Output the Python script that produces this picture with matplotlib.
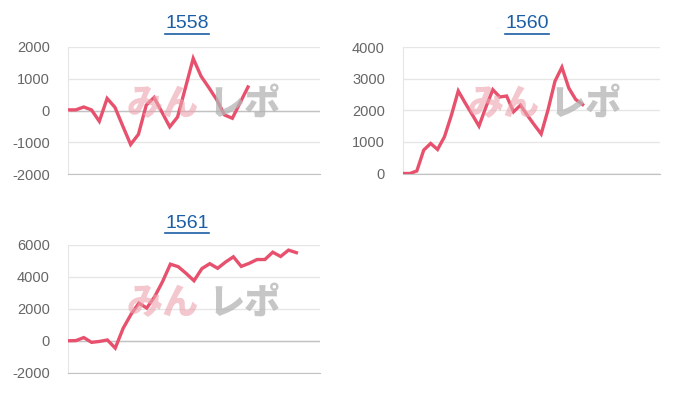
import matplotlib
matplotlib.use("Agg")
import matplotlib.pyplot as plt
from matplotlib.lines import Line2D
import numpy as np

plt.rcParams['font.family'] = ['Liberation Sans', 'DejaVu Sans']
plt.rcParams['axes.unicode_minus'] = False

# machine numbers (chart titles)
titles = ["1558", "1560", "1561"]

# cumulative values
vals_1558 = [20, 20, 110, 20, -340, 380, 100, -490, -1070, -750, 170, 410,
             -50, -515, -205, 710, 1640, 1080, 720, 340, -140, -245, 250, 740]
vals_1560 = [0, 0, 80, 740, 950, 760, 1160, 1840, 2610, 2230, 1870, 1500,
             2100, 2650, 2420, 2450, 1950, 2160, 1840, 1540, 1250, 2020,
             2920, 3360, 2700, 2340, 2180]
vals_1561 = [0, 10, 200, -100, -40, 50, -460, 780, 1650, 2360, 2050, 2760,
             3700, 4800, 4640, 4220, 3760, 4520, 4830, 4540, 4930, 5260,
             4660, 4850, 5090, 5090, 5550, 5280, 5680, 5520]
series = [vals_1558, vals_1560, vals_1561]

# y axis ticks for each panel
yticks = [[-2000, -1000, 0, 1000, 2000],
          [0, 1000, 2000, 3000, 4000],
          [-2000, 0, 2000, 4000, 6000]]
# number of x slots on the category axis
xspan = [32.2, 37.2, 32.0]

line_color = '#e8516d'
title_color = '#1b5ea6'
W, H = 700, 400

# axes boxes in pixels: left, top, right, bottom
boxes = [(68, 47, 320, 174), (403, 47, 660, 173.5), (68, 245, 320, 372.7)]
title_pos = [(187, 23.5), (527, 23.5), (187, 223)]
mark_pos = [(203, 104), (544, 104), (203, 303)]

fig = plt.figure(figsize=(7, 4), dpi=100)
jp = ['Noto Sans CJK JP', 'DejaVu Sans']

for vals, ticks, span, box, tpos, mpos, title in zip(
        series, yticks, xspan, boxes, title_pos, mark_pos, titles):
    l, t, r, b = box
    ax = fig.add_axes([l / W, 1 - b / H, (r - l) / W, (b - t) / H])
    x = np.arange(len(vals))
    ax.set_xlim(0, span)
    ax.set_ylim(ticks[0], ticks[-1])
    ax.set_yticks(ticks)
    ax.set_xticks([])
    ax.grid(axis='y', color='#e6e6e6', linewidth=1)
    ax.axhline(0, color='#c2c2c2', linewidth=1, zorder=1)
    for s in ['top', 'right']:
        ax.spines[s].set_visible(False)
    ax.spines['left'].set_color('#e6e6e6')
    ax.spines['bottom'].set_color('#c2c2c2')
    ax.tick_params(axis='y', length=0, pad=13, labelsize=10.5, labelcolor='#666666')
    ax.set_axisbelow(True)

    # watermark
    fig.text((mpos[0] - 40) / W, 1 - mpos[1] / H, "みん", ha='center', va='center',
             fontsize=26, fontweight='black', color='#eba3ad', alpha=0.6,
             family=jp, zorder=0)
    fig.text((mpos[0] + 42) / W, 1 - mpos[1] / H, "レポ", ha='center', va='center',
             fontsize=26, fontweight='black', color='#b4b4b4', alpha=0.75,
             family=jp, zorder=0)

    ax.plot(x, vals, color=line_color, linewidth=2.4, solid_joinstyle='miter',
            zorder=3)
    ax.patch.set_alpha(0)

    fig.text(tpos[0] / W, 1 - tpos[1] / H, title, ha='center', va='center',
             fontsize=14, color=title_color)

# underline titles
renderer = fig.canvas.get_renderer()
for txt in list(fig.texts):
    if txt.get_text() in titles:
        bb = txt.get_window_extent(renderer).transformed(fig.transFigure.inverted())
        yline = bb.y0 - 1.5 / H
        fig.add_artist(Line2D([bb.x0, bb.x1], [yline, yline], color=title_color,
                              linewidth=1.2, transform=fig.transFigure))

fig.savefig('out.png', dpi=100)
